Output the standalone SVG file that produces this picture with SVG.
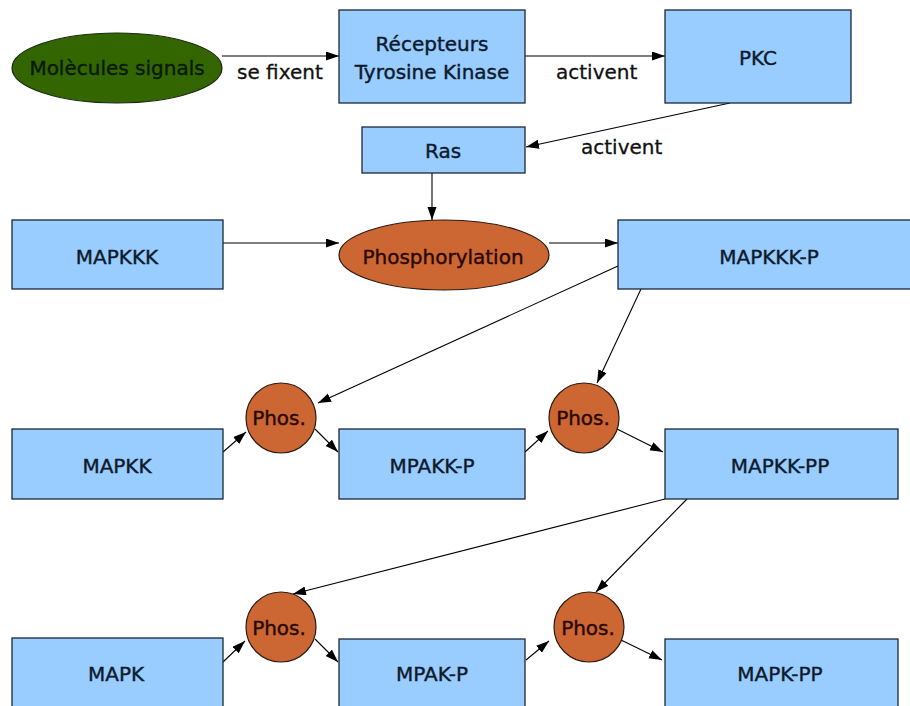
<svg xmlns="http://www.w3.org/2000/svg" width="910" height="706" viewBox="0 0 910 706">
<defs>
<marker id="arr" markerUnits="userSpaceOnUse" markerWidth="14" markerHeight="10" refX="13" refY="4.5" orient="auto">
<path d="M0,0 L13,4.5 L0,9 z" fill="#000"/>
</marker>
<style>
.box{fill:#99ccff;stroke:#1a2838;stroke-width:1.3}
.ell{fill:#cc6633;stroke:#2a1a10;stroke-width:1.2}
.grn{fill:#336600;stroke:#1a2a10;stroke-width:1.2}
.t{font-family:"DejaVu Sans",sans-serif;font-size:20px;fill:#0d1a2b;stroke:#0d1a2b;stroke-width:0.4;text-anchor:middle}
.to{fill:#2a0800;stroke:#2a0800}
.tg{fill:#0a1a00;stroke:#0a1a00}
.lbl{font-family:"DejaVu Sans",sans-serif;font-size:20px;fill:#111;stroke:#111;stroke-width:0.3}
.c{stroke:#000;stroke-width:1.1;fill:none;marker-end:url(#arr)}
</style>
</defs>
<rect width="910" height="706" fill="#fff"/>
<g id="connectors">
<line class="c" x1="222" y1="56" x2="339" y2="56"/>
<line class="c" x1="525" y1="56" x2="665" y2="56"/>
<line class="c" x1="730" y1="103" x2="526" y2="147"/>
<line class="c" x1="432" y1="173" x2="432" y2="220"/>
<line class="c" x1="223" y1="243" x2="339" y2="243"/>
<line class="c" x1="549" y1="243" x2="618" y2="243"/>
<line class="c" x1="618" y1="266" x2="318" y2="403"/>
<line class="c" x1="641" y1="289" x2="597" y2="383"/>
<line class="c" x1="223" y1="452" x2="246" y2="432"/>
<line class="c" x1="315" y1="429" x2="338" y2="452"/>
<line class="c" x1="525" y1="452" x2="548" y2="431"/>
<line class="c" x1="617" y1="429" x2="663" y2="452"/>
<line class="c" x1="665" y1="499" x2="293" y2="594"/>
<line class="c" x1="687" y1="499" x2="596" y2="592"/>
<line class="c" x1="223" y1="662" x2="245" y2="641"/>
<line class="c" x1="315" y1="639" x2="338" y2="662"/>
<line class="c" x1="526" y1="660" x2="549" y2="641"/>
<line class="c" x1="621" y1="640" x2="662" y2="660"/>
</g>
<g id="labels">
<text class="lbl" x="237" y="79">se fixent</text>
<text class="lbl" x="556" y="79">activent</text>
<text class="lbl" x="581" y="154">activent</text>
</g>
<g id="molecules"><ellipse class="grn" cx="117" cy="68" rx="105" ry="35"/><text class="t tg" x="117" y="75">Molècules signals</text></g>
<g id="recepteurs"><rect class="box" x="339" y="10" width="186" height="93"/><text class="t" x="432" y="51">Récepteurs</text><text class="t" x="432" y="79">Tyrosine Kinase</text></g>
<g id="pkc"><rect class="box" x="665" y="10" width="186" height="93"/><text class="t" x="758" y="65">PKC</text></g>
<g id="ras"><rect class="box" x="362" y="127" width="163" height="46"/><text class="t" x="443" y="158">Ras</text></g>
<g id="mapkkk"><rect class="box" x="12" y="220" width="211" height="69"/><text class="t" x="117" y="264">MAPKKK</text></g>
<g id="phosphorylation"><ellipse class="ell" cx="444" cy="255" rx="105" ry="35"/><text class="t to" x="443" y="264">Phosphorylation</text></g>
<g id="mapkkk-p"><rect class="box" x="618" y="220" width="294" height="69"/><text class="t" x="769" y="264">MAPKKK-P</text></g>
<g id="phos1"><circle class="ell" cx="281" cy="418" r="35"/><text class="t to" x="279" y="425">Phos.</text></g>
<g id="phos2"><circle class="ell" cx="584" cy="418" r="35"/><text class="t to" x="583" y="425">Phos.</text></g>
<g id="mapkk"><rect class="box" x="12" y="429" width="211" height="70"/><text class="t" x="117" y="473">MAPKK</text></g>
<g id="mpakk-p"><rect class="box" x="339" y="429" width="186" height="70"/><text class="t" x="432" y="473">MPAKK-P</text></g>
<g id="mapkk-pp"><rect class="box" x="665" y="429" width="233" height="70"/><text class="t" x="780" y="473">MAPKK-PP</text></g>
<g id="phos3"><circle class="ell" cx="281" cy="627" r="35"/><text class="t to" x="279" y="635">Phos.</text></g>
<g id="phos4"><circle class="ell" cx="589" cy="627" r="35"/><text class="t to" x="588" y="635">Phos.</text></g>
<g id="mapk"><rect class="box" x="12" y="638" width="211" height="75"/><text class="t" x="116" y="681">MAPK</text></g>
<g id="mpak-p"><rect class="box" x="339" y="639" width="186" height="75"/><text class="t" x="432" y="681">MPAK-P</text></g>
<g id="mapk-pp"><rect class="box" x="665" y="639" width="233" height="75"/><text class="t" x="780" y="681">MAPK-PP</text></g>
</svg>
